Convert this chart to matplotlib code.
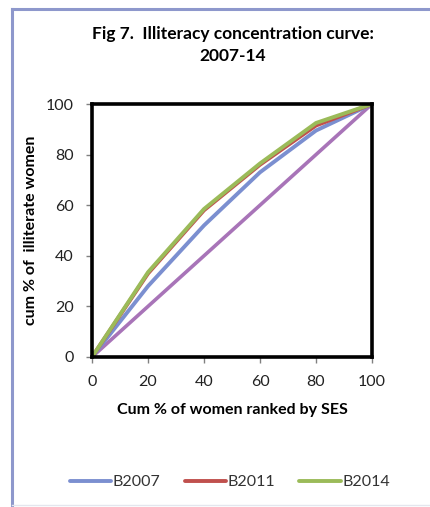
import matplotlib
matplotlib.use("Agg")
import matplotlib.pyplot as plt
from matplotlib.lines import Line2D

# cumulative % of women ranked by SES
cum_women = [0, 20, 40, 60, 80, 100]

# cumulative % of illiterate women
b2007 = [0, 28, 52, 73, 89.5, 100]
b2011 = [0, 33, 58, 76, 91.5, 100]
b2014 = [0, 33.5, 58.5, 76.5, 92.5, 100]
equality = [0, 20, 40, 60, 80, 100]

series_names = ["B2007", "B2011", "B2014"]
series_colors = ["#7b8fd0", "#c0504d", "#9bbb59"]

plt.rcParams["font.family"] = ["Lato", "DejaVu Sans"]

W, H = 430, 507
fig = plt.figure(figsize=(W / 100, H / 100), dpi=100)
fig.patch.set_facecolor("white")

# light blue frame round the chart (top and left edges)
fig.add_artist(Line2D([12 / W, 1.0], [1 - 9 / H, 1 - 9 / H], transform=fig.transFigure,
                      color="#8e98cc", lw=2.2))
fig.add_artist(Line2D([12 / W, 12 / W], [1 - 9 / H, 0.0], transform=fig.transFigure,
                      color="#8e98cc", lw=2.2))
fig.add_artist(Line2D([12 / W, 1.0], [2 / H, 2 / H], transform=fig.transFigure,
                      color="#e4e6ee", lw=1.0))

# plot area in pixels: x 92..372, y 104..357
ax = fig.add_axes([92 / W, 1 - 357 / H, 280 / W, 253 / H])

ax.plot(cum_women, equality, color="#a874b8", lw=2.6, solid_capstyle="round")
for name, vals, col in zip(series_names, [b2007, b2011, b2014], series_colors):
    ax.plot(cum_women, vals, color=col, lw=2.8, label=name, solid_capstyle="round")

ax.set_xlim(0, 100)
ax.set_ylim(0, 100)
ax.set_xticks(cum_women)
ax.set_yticks([0, 20, 40, 60, 80, 100])
for side in ax.spines.values():
    side.set_linewidth(2.6)
    side.set_color("black")
ax.tick_params(direction="out", length=4, width=1, colors="#808080",
               labelcolor="#222222", labelsize=11.5)
ax.tick_params(axis="x", pad=9)
ax.tick_params(axis="y", pad=9)

ax.set_xlabel("Cum % of women ranked by SES", fontsize=11.5, fontweight="bold", labelpad=10)
ax.set_ylabel("cum % of  illiterate women", fontsize=11.5, fontweight="bold", labelpad=6)

fig.text(233 / W, 1 - 45 / H, "Fig 7.  Illiteracy concentration curve:\n2007-14",
         ha="center", va="center", fontsize=12.5, fontweight="bold", linespacing=1.4)

handles, labels = ax.get_legend_handles_labels()
fig.legend(handles, labels, loc="center", bbox_to_anchor=(230 / W, 1 - 482 / H), ncol=3,
           frameon=False, fontsize=11.5, handlelength=2.6, handletextpad=0.1,
           columnspacing=1.5, labelcolor="#333333")

fig.savefig("out.png", dpi=100, facecolor="white")
